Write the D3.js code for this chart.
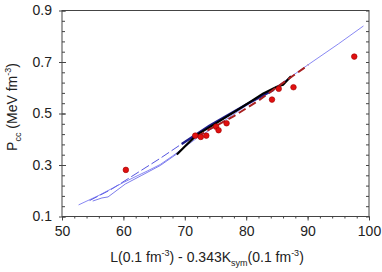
<!DOCTYPE html>
<html>
<head>
<meta charset="utf-8">
<script src="https://cdn.jsdelivr.net/npm/d3@7"></script>
<style>
  body { margin: 0; background: #fff; }
  svg text { font-family: "Liberation Sans", Arial, sans-serif; fill: #222; }
</style>
</head>
<body>
<svg id="chart" width="382" height="272"></svg>
<script>
// tick labels
var xTicks = [50, 60, 70, 80, 90, 100];
var yTicks = [0.1, 0.3, 0.5, 0.7, 0.9];

// red dots
var dotsX = [60.4, 71.7, 72.6, 73.5, 75.1, 75.5, 76.8, 84.2, 85.3, 87.7, 97.6];
var dotsY = [0.281, 0.414, 0.409, 0.414, 0.449, 0.435, 0.462, 0.554, 0.596, 0.602, 0.721];

// thin blue line (full range)
var blueX = [52.7, 56, 60, 64, 66, 68, 70, 72, 76, 80, 85, 90, 95, 99.1];
var blueY = [0.145, 0.182, 0.232, 0.278, 0.302, 0.335, 0.37, 0.405, 0.465, 0.53, 0.605, 0.688, 0.77, 0.84];

// blue dashed line
var dashX = [54.5, 58, 62.7, 66, 70, 73];
var dashY = [0.162, 0.205, 0.276, 0.326, 0.39, 0.432];

// lower thin blue line with kink
var lowX = [55, 56.5, 57.5, 60.3, 63, 66, 68.7, 70];
var lowY = [0.16, 0.172, 0.176, 0.226, 0.26, 0.298, 0.343, 0.37];

// navy thick line
var navyX = [69.5, 74, 80, 84.5];
var navyY = [0.382, 0.452, 0.535, 0.592];

// black thick line
var blackX = [68.7, 70, 72, 74.6, 79, 82.8, 85, 86, 87.3];
var blackY = [0.341, 0.372, 0.418, 0.455, 0.52, 0.578, 0.604, 0.612, 0.645];

// red dashed line
var redX = [72, 74, 78, 82, 85, 87, 90.1];
var redY = [0.41, 0.438, 0.49, 0.55, 0.602, 0.636, 0.688];

var svg = d3.select('#chart');
var mLeft = 62, mRight = 369, mTop = 10.5, mBottom = 216.5;

var x = d3.scaleLinear().domain([50, 100]).range([mLeft, mRight]);
var y = d3.scaleLinear().domain([0.1, 0.9]).range([mBottom, mTop]);

function pts(xs, ys) { return xs.map(function(v, i) { return [v, ys[i]]; }); }
var line = d3.line().x(function(d) { return x(d[0]); }).y(function(d) { return y(d[1]); });

// frame
svg.append('rect')
  .attr('x', mLeft).attr('y', mTop)
  .attr('width', mRight - mLeft).attr('height', mBottom - mTop)
  .attr('fill', 'none').attr('stroke', '#444').attr('stroke-width', 1);

// minor ticks
var xMinor = d3.range(50, 100.01, 2);
var yMinor = d3.range(0.1, 0.901, 0.04);

function styleAxis(g) {
  g.select('.domain').remove();
  g.selectAll('.tick line').attr('stroke', '#444');
}

svg.append('g').attr('transform', 'translate(0,' + mBottom + ')')
  .call(d3.axisBottom(x).tickValues(xMinor).tickSize(2).tickFormat(''))
  .call(styleAxis);
svg.append('g').attr('transform', 'translate(0,' + mBottom + ')')
  .call(d3.axisBottom(x).tickValues(xTicks).tickSize(4).tickPadding(6).tickFormat(d3.format('d')))
  .call(styleAxis)
  .selectAll('text').attr('font-size', 14).attr('fill', '#222');

svg.append('g').attr('transform', 'translate(' + mLeft + ',0)')
  .call(d3.axisRight(y).tickValues(yMinor).tickSize(3).tickFormat(''))
  .call(styleAxis);
svg.append('g').attr('transform', 'translate(' + mLeft + ',0)')
  .call(d3.axisLeft(y).tickValues(yTicks).tickSize(3).tickPadding(7).tickFormat(d3.format('.1f')))
  .call(styleAxis)
  .selectAll('text').attr('font-size', 14).attr('fill', '#222');
svg.append('g').attr('transform', 'translate(' + mLeft + ',0)')
  .call(d3.axisRight(y).tickValues(yTicks).tickSize(4).tickFormat(''))
  .call(styleAxis);

svg.append('g').attr('transform', 'translate(' + mRight + ',0)')
  .call(d3.axisLeft(y).tickValues(yMinor).tickSize(3).tickFormat(''))
  .call(styleAxis);

// lines
var plot = svg.append('g');
plot.append('path').datum(pts(lowX, lowY)).attr('d', line)
  .attr('fill', 'none').attr('stroke', '#5c5ce6').attr('stroke-width', 0.8);
plot.append('path').datum(pts(dashX, dashY)).attr('d', line)
  .attr('fill', 'none').attr('stroke', '#5555e0').attr('stroke-width', 1)
  .attr('stroke-dasharray', '9,3');
plot.append('path').datum(pts(blueX, blueY)).attr('d', line)
  .attr('fill', 'none').attr('stroke', '#6a6af0').attr('stroke-width', 0.8);
plot.append('path').datum(pts(navyX, navyY)).attr('d', line)
  .attr('fill', 'none').attr('stroke', '#1c1c8a').attr('stroke-width', 2.4);
plot.append('path').datum(pts(blackX, blackY)).attr('d', line)
  .attr('fill', 'none').attr('stroke', '#000').attr('stroke-width', 2.2)
  .attr('stroke-linejoin', 'round');
plot.append('path').datum(pts(redX, redY)).attr('d', line)
  .attr('fill', 'none').attr('stroke', '#a82020').attr('stroke-width', 2)
  .attr('stroke-dasharray', '8,4');

// dots
plot.selectAll('circle').data(pts(dotsX, dotsY)).enter()
  .append('circle')
  .attr('cx', function(d) { return x(d[0]); })
  .attr('cy', function(d) { return y(d[1]); })
  .attr('r', 2.8)
  .attr('fill', '#e01010')
  .attr('stroke', '#a00000')
  .attr('stroke-width', 0.6);

// axis titles
var xt = svg.append('text')
  .attr('x', 207).attr('y', 262)
  .attr('text-anchor', 'middle').attr('font-size', 14);
xt.append('tspan').text('L(0.1 fm');
xt.append('tspan').attr('font-size', 9).attr('dy', -6).text('-3');
xt.append('tspan').attr('dy', 6).text(') - 0.343K');
xt.append('tspan').attr('font-size', 9).attr('dy', 4).text('sym');
xt.append('tspan').attr('dy', -4).text('(0.1 fm');
xt.append('tspan').attr('font-size', 9).attr('dy', -6).text('-3');
xt.append('tspan').attr('dy', 6).text(')');

var yt = svg.append('text')
  .attr('transform', 'translate(17,107) rotate(-90)')
  .attr('text-anchor', 'middle').attr('font-size', 14);
yt.append('tspan').text('P');
yt.append('tspan').attr('font-size', 9).attr('dy', 4).text('cc');
yt.append('tspan').attr('dy', -4).text(' (MeV fm');
yt.append('tspan').attr('font-size', 9).attr('dy', -6).text('-3');
yt.append('tspan').attr('dy', 6).text(')');
</script>
</body>
</html>
